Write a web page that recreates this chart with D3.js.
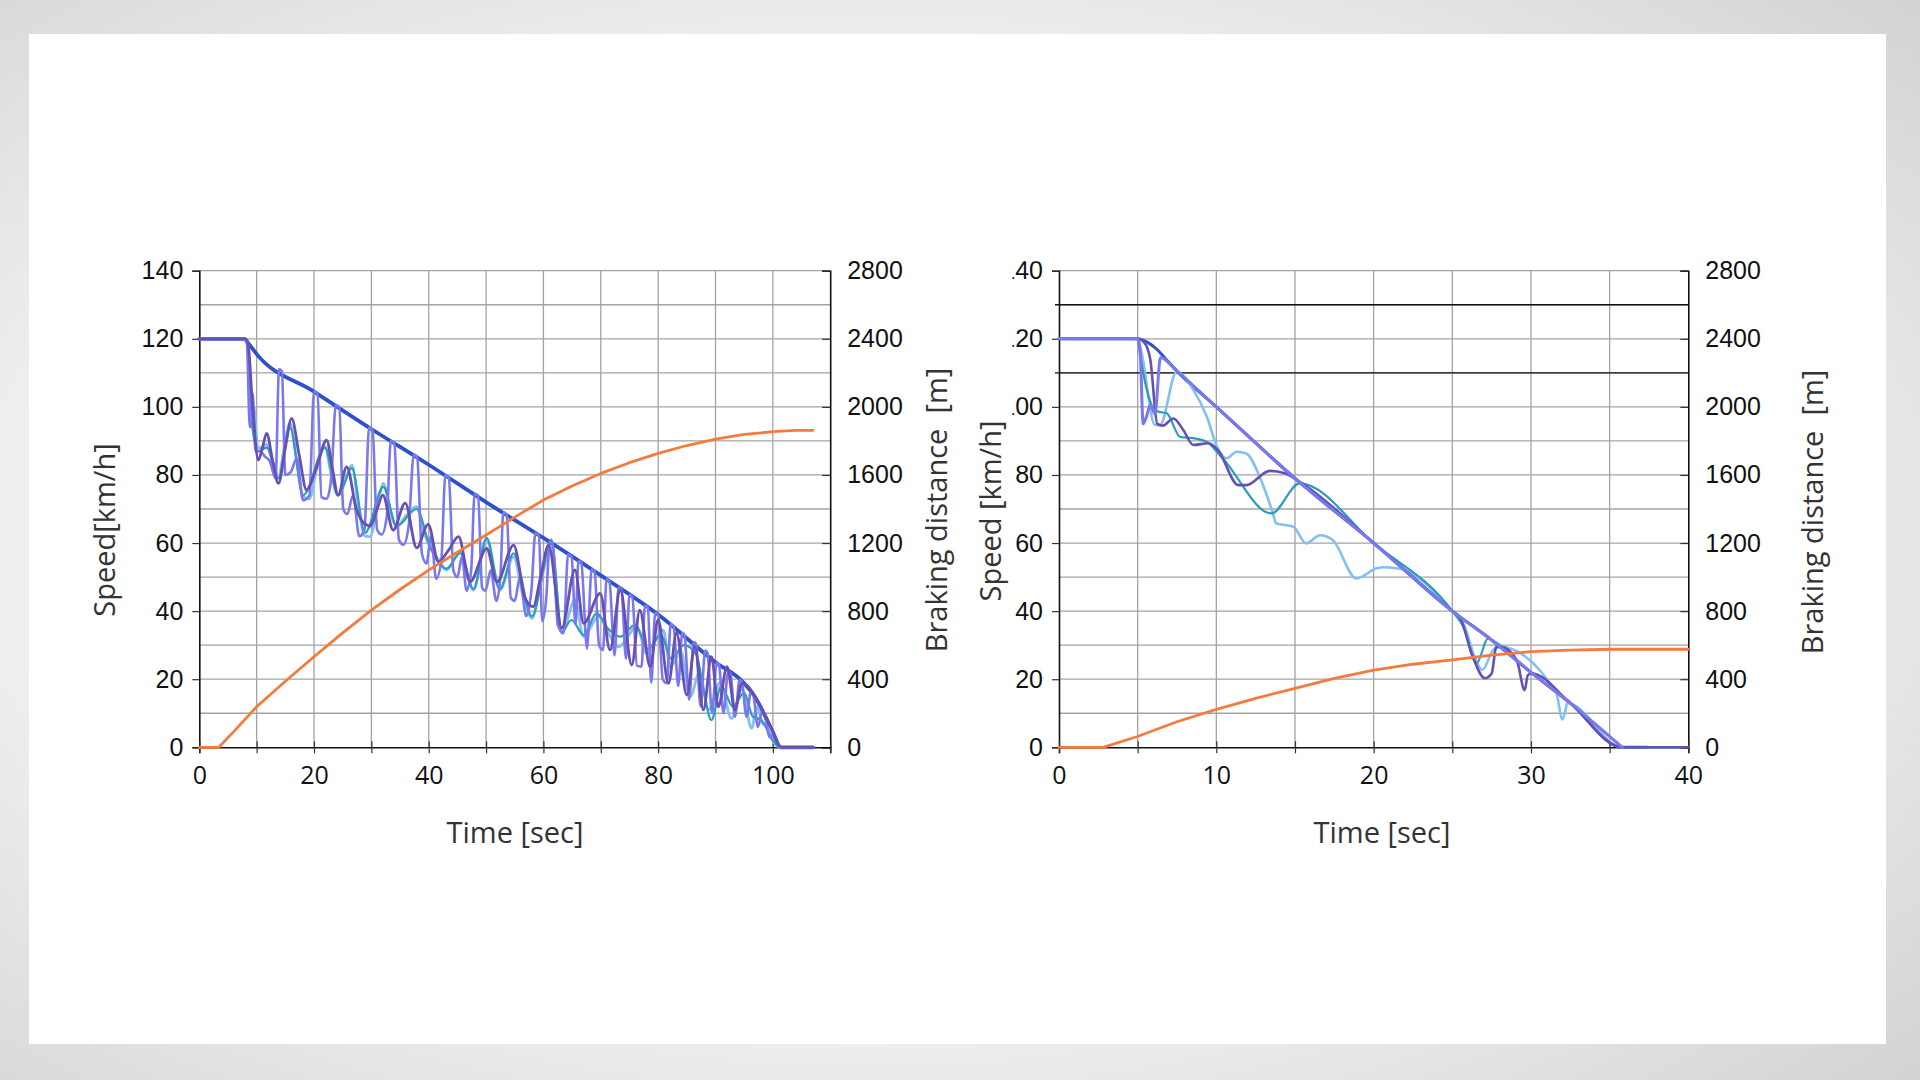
<!DOCTYPE html>
<html>
<head>
<meta charset="utf-8">
<script src="https://cdn.jsdelivr.net/npm/d3@7"></script>
<style>
  html, body { margin: 0; padding: 0; background: #fff; }
  svg { display: block; }
</style>
</head>
<body>
<div id="chart"></div>
<script>
// ---- tick labels / grid ----
const speedTicks = [0, 20, 40, 60, 80, 100, 120, 140];
const speedGrid = [10, 20, 30, 40, 50, 60, 70, 80, 90, 100, 110, 120, 130, 140];
const distTicks = [0, 400, 800, 1200, 1600, 2000, 2400, 2800];
const leftTimeTicks = [0, 20, 40, 60, 80, 100];
const leftTimeGrid = [10, 20, 30, 40, 50, 60, 70, 80, 90, 100];
const rightTimeTicks = [0, 10, 20, 30, 40];
const rightTimeGrid = [5, 10, 15, 20, 25, 30, 35];
const rightRefLines = [130, 110];

// ---- left chart (t [s], speed [km/h]) ----
const leftEnvelope = [[0,120],[7.9,120],[8.5,118.8],[10,115.5],[20,104.5],[30,93.5],[40,83],[50,72],[60,61.5],[70,50.5],[80,39],[90,25],[95,18.8],[97,14.5],[99,8],[100,4.5],[101.4,0],[107,0]];

const leftPeriwinkle = [[0,120],[7.7,120],[8.3,118.5],[8.8,94],[9.3,104],[9.8,87],[10.6,87],[11.4,85.5],[12.3,84],[13.3,79],[13.9,111],[14.4,110.5],[15.0,80],[16.0,81],[17.0,85],[18.1,72.5],[19.2,74],[20.0,104.5],[20.6,104],[21.3,73.5],[22.2,73],[23.0,79],[23.8,100.5],[24.4,100],[25.1,70],[25.8,68.5],[26.8,74],[27.9,62],[28.8,64],[29.6,94],[30.2,93.3],[31.0,64],[31.8,62.5],[32.7,68],[33.4,90],[34.0,89.3],[34.8,61],[35.6,59.5],[36.5,65],[37.4,86],[38.0,85],[38.8,57],[39.6,54],[40.4,62],[41.3,49.5],[42.2,55],[42.9,80],[43.5,79.2],[44.3,52],[45.0,50],[45.8,56],[46.6,46],[47.4,52],[48.0,74.5],[48.6,74],[49.3,47],[49.9,46],[50.8,52],[51.8,43],[52.5,50],[53.0,69],[53.6,68.3],[54.3,44],[55.0,43],[55.9,50],[57.0,38.5],[57.9,46],[58.6,63],[59.2,62.4],[59.8,37],[60.5,44],[61.1,60.3],[61.6,59.7],[62.5,36],[63.5,33.5],[64.3,56.7],[64.9,56],[65.6,36],[66.1,54.8],[66.6,54.2],[67.6,29],[68.4,52.3],[68.9,51.8],[69.7,30],[70.4,28.6],[71.0,49.4],[71.5,48.8],[72.4,27],[73.1,47],[73.6,46.4],[74.4,26],[75.0,44.8],[75.5,44.2],[76.3,24],[77.1,23.7],[77.7,41.6],[78.2,41.1],[78.8,19],[79.5,39.6],[80.0,39],[80.8,20],[81.5,18.8],[82.2,36.2],[82.7,35.5],[83.5,18],[84.2,33.6],[84.6,33],[85.4,14],[86.2,30.9],[86.6,30.4],[87.4,12],[88.2,28.4],[88.6,27.8],[89.4,10],[90.2,24.8],[90.6,24.3],[91.4,10],[92.2,22.3],[92.6,21.8],[93.4,9],[94.2,19.8],[94.6,19.3],[95.4,9],[96.2,16.5],[96.6,15.4],[97.4,6],[98.2,11],[98.6,9.5],[99.4,3],[100.2,3.5],[100.8,1.5],[101.4,0],[107,0]];

const leftDarkPurple = [[0,120],[8,120],[8.5,118.5],[9.3,100],[10.3,84.4],[11.0,88],[11.75,92.2],[12.8,84],[13.8,77.5],[15.0,88],[16.1,96.6],[17.4,86],[18.7,75.6],[20.4,82],[22.2,90.2],[23.2,82],[24.2,74.1],[25.7,82.4],[27.4,70],[28.6,66],[29.8,65],[31.0,70],[32.0,74.1],[33.8,63.8],[35.9,71.7],[37.9,58.6],[39.9,65.5],[41.7,54.5],[43.5,58],[45.2,61.9],[47.2,48.6],[50.1,58.4],[51.9,48.6],[54.8,59.4],[56.8,43.8],[58.2,41.3],[59.5,50],[60.9,59.4],[63.2,35],[65.5,52.1],[67.0,36.4],[69.9,45.2],[71.6,28.6],[73.4,46.2],[75.4,24.2],[76.8,40.3],[78.6,23.7],[80.0,37.4],[81.8,18.8],[83.2,33.5],[85.0,15.4],[86.4,29.5],[87.9,11],[89.3,26.6],[90.5,11.9],[92.0,23.7],[93.4,11],[94.6,18.8],[95.5,18.2],[97,14.5],[99,8],[100,4.5],[101.4,0],[107,0]];

const leftLightBlue = [[0,120],[8,120],[8.5,118],[9.0,94],[9.5,100],[10.2,88],[11,88],[11.75,89],[12.8,84],[13.8,79.5],[14.8,88],[15.8,95.2],[17,84],[18.1,73.6],[19.2,73],[20.5,82],[21.9,88.3],[23,80],[24.2,74],[25.4,78],[26.6,82.9],[27.8,70],[28.9,62],[29.8,61.9],[31.0,70],[32.1,77.5],[33.2,70],[34.4,64.8],[36.0,68],[37.9,70.7],[39.0,64],[40.2,58.9],[41.8,55],[43.1,52.1],[45.5,57.4],[47.8,46.2],[50.1,60.9],[52.4,46.2],[54.8,56],[56.5,44],[58,37.9],[59.5,48],[61.4,58.9],[63.2,33.5],[65.5,43.3],[67,32.5],[69.6,38.4],[71.5,33],[73.1,29.5],[76.3,35.4],[78,27.6],[80.9,34.4],[82.1,23.7],[84,28],[85.6,14.9],[87.2,22],[88.8,11],[90.8,19],[92.8,8.5],[94.6,17],[96.3,5.6],[97.2,12],[98.2,7],[99.2,6],[100.1,1.6],[101.4,0],[107,0]];

const leftTeal = [[0,120],[8,120],[8.5,118],[9.2,95],[10.2,87],[11.75,88],[13.8,79],[15.8,94],[18.1,74],[21.9,88],[24.2,74],[26.6,82],[28.9,63],[32.1,76.5],[34.4,65],[37.9,70],[40.2,59],[43.1,52.5],[45.5,57],[47.8,46.5],[50.1,61.5],[52.4,46.5],[54.8,57],[58,38.5],[61.4,61],[63.2,34],[64.9,37.4],[67,33],[69.3,39.4],[71.2,35],[73.4,32.5],[76,36],[78.2,29],[80.5,33],[82.3,26],[84.5,30],[86.7,27.1],[88,16],[89.3,8],[91,18],[93,12],[95,16],[96.5,9],[98,8],[100,2],[101.4,0],[107,0]];

// braking distance [m]
const leftDistance = [[0,0],[3.4,0],[6,92],[10,238],[15,388],[20,532],[25,672],[30,806],[35,927],[40,1041],[45,1146],[50,1247],[55,1352],[60,1453],[65,1535],[70,1609],[75,1672],[80,1727],[85,1773],[90,1811],[95,1838],[100,1854],[104,1862],[107,1862]];

// ---- right chart ----
const rightEnvelope = [[0,120],[5,120],[5.6,119],[6.2,117],[6.7,114.5],[7.5,110.5],[10,100],[15,79],[20,60],[25,40],[27.5,31.5],[30,22],[32.5,13],[35.8,0],[37.4,0]];

const rightPeriwinkle = [[0,120],[5,120],[5.15,117],[5.35,95],[5.55,97],[5.8,100.5],[6.1,98],[6.45,114.5],[7.5,110.5],[10,100],[15,79],[20,60],[25,40],[27.5,31.5],[30,22],[32.5,13],[35.8,0]];

const rightDarkPurple = [[0,120],[5,120],[5.4,119],[5.8,114],[6.25,95],[6.6,94.5],[7.27,96.6],[7.9,93.2],[8.54,88.8],[9.5,89.3],[10.1,87.3],[11.4,77],[11.9,77],[13.4,81.2],[14.35,80.5],[15.3,78],[20,60],[25,40],[25.5,38],[26.3,26.6],[27.07,20.3],[27.5,21.7],[27.8,29.5],[28.1,29.5],[29.1,25.5],[29.6,16.8],[29.8,21.2],[30.05,21.7],[32.5,13],[35.8,0],[36.2,0],[39.5,0],[40,0]];

const rightTeal = [[0,120],[5,120],[5.1,117],[5.58,105],[6,99.6],[6.32,98.6],[6.85,98.1],[7.7,91.2],[8.54,90.8],[9.4,89.7],[10.4,84.9],[13.5,68.7],[15.3,77.5],[20,60],[25,40],[25.7,35.4],[26.55,24.7],[27.27,32],[27.7,31],[30,22],[32.5,13],[35.8,0]];

const rightLightBlue = [[0,120],[5,120],[5.2,117],[6.1,94.7],[6.42,94.7],[7.48,110.3],[8.54,105],[9.4,97.1],[10.05,88.3],[10.65,84.9],[11.3,86.8],[11.9,86.3],[12.75,79.5],[13.6,68.7],[13.8,65.8],[14.9,64.8],[15.7,59.9],[16.6,62.3],[17.4,60.9],[18.9,49.6],[20.2,52.6],[20.6,52.9],[21.45,52.6],[22,52],[25,40],[25.7,36.4],[26.5,25.6],[26.9,22.7],[27.6,28.6],[28,29.5],[31.6,16],[32,8.2],[32.2,11],[32.3,13],[35.8,0],[37.4,0],[39.5,0]];

const rightDistance = [[0,0],[2.8,0],[4.94,62],[7.5,150],[10,223],[12.5,288],[15,346],[17.5,405],[20,454],[22.5,488],[25,513],[27.5,542],[30,562],[32.5,571],[35,576],[40,576]];

// ---- colours ----
const C_DARKBLUE = "#2d50cc";
const C_PERI = "#7a78ee";
const C_PURPLE = "#6650b4";
const C_LIGHT = "#82bff2";
const C_TEAL = "#2a9db8";
const C_ORANGE = "#f47b3c";

const W = 1920, H = 1080;
const PLOT_TOP = 270.7, PLOT_BOTTOM = 747.3;
const NUM_FONT = "'Liberation Sans', Arial, sans-serif";
const TXT_FONT = "'Open Sans', 'Noto Sans', sans-serif";

const svg = d3.select("#chart").append("svg").attr("width", W).attr("height", H);
const defs = svg.append("defs");

// backdrop
const bg = defs.append("radialGradient").attr("id", "bg").attr("cx", "45%").attr("cy", "50%").attr("r", "75%");
bg.append("stop").attr("offset", "0%").attr("stop-color", "#fbfbfb");
bg.append("stop").attr("offset", "60%").attr("stop-color", "#efefef");
bg.append("stop").attr("offset", "100%").attr("stop-color", "#d2d2d2");
svg.append("rect").attr("width", W).attr("height", H).attr("fill", "url(#bg)");
svg.append("rect").attr("x", 29).attr("y", 34).attr("width", 1857).attr("height", 1010).attr("fill", "#fff");

function panel(p) {
  const x = d3.scaleLinear().domain(p.xDomain).range([p.x0, p.x1]);
  const y = d3.scaleLinear().domain([0, 140]).range([PLOT_BOTTOM, PLOT_TOP]);
  const y2 = d3.scaleLinear().domain([0, 2800]).range([PLOT_BOTTOM, PLOT_TOP]);
  const g = svg.append("g").attr("class", p.id);

  // grid
  g.append("g").selectAll("line").data(speedGrid).enter().append("line")
    .attr("x1", p.x0).attr("x2", p.x1)
    .attr("y1", d => y(d)).attr("y2", d => y(d))
    .attr("stroke", "#a3a3a3").attr("stroke-width", 1.3);
  g.append("g").selectAll("line").data(p.timeGrid).enter().append("line")
    .attr("x1", d => x(d)).attr("x2", d => x(d))
    .attr("y1", PLOT_TOP).attr("y2", PLOT_BOTTOM)
    .attr("stroke", "#a3a3a3").attr("stroke-width", 1.3);

  // black reference lines (right chart only)
  g.append("g").selectAll("line").data(p.refLines || []).enter().append("line")
    .attr("x1", p.x0 - 4).attr("x2", p.x1)
    .attr("y1", d => y(d)).attr("y2", d => y(d))
    .attr("stroke", "#111").attr("stroke-width", 1.4);

  // left axis
  const axL = g.append("g").attr("transform", `translate(${p.x0},0)`)
    .call(d3.axisLeft(y).tickValues(speedTicks).tickSize(7).tickPadding(9));
  if (p.clipLabels) {
    // the source image cut off the hundreds digit of these labels
    const cid = "clip-" + p.id;
    defs.append("clipPath").attr("id", cid).append("rect")
      .attr("x", p.clipLabels - p.x0).attr("y", -10).attr("width", 200).attr("height", H);
    axL.selectAll("text").attr("clip-path", `url(#${cid})`);
  }

  // right axis (distance)
  g.append("g").attr("transform", `translate(${p.x1},0)`)
    .call(d3.axisRight(y2).tickValues(distTicks).tickSize(-8).tickPadding(17).tickFormat(d3.format("d")));

  // bottom axis: tick marks at grid positions, labels separately
  g.append("g").attr("transform", `translate(0,${PLOT_BOTTOM})`)
    .call(d3.axisBottom(x).tickValues([p.xDomain[0]].concat(p.timeGrid, [p.xDomain[1]])).tickSize(6).tickFormat(""))
    .call(a => a.selectAll(".tick line").attr("y1", -6));
  const axB = g.append("g").attr("transform", `translate(0,${PLOT_BOTTOM})`)
    .call(d3.axisBottom(x).tickValues(p.timeTicks).tickSize(0).tickPadding(19));
  axB.select(".domain").remove();

  g.selectAll(".domain").attr("stroke", "#111").attr("stroke-width", 1.6);
  g.selectAll(".tick line").attr("stroke", "#333").attr("stroke-width", 1.2);
  g.selectAll(".tick text").style("font-family", NUM_FONT).style("font-size", "25px").attr("fill", "#111");
  axB.selectAll("text").style("font-family", TXT_FONT).style("font-size", "25px");

  // series
  const line = d3.line().x(d => x(d[0])).y(d => y(d[1])).curve(d3.curveMonotoneX);
  const dline = d3.line().x(d => x(d[0])).y(d => y2(d[1])).curve(d3.curveLinear);
  const lines = g.append("g").attr("fill", "none")
    .attr("stroke-linejoin", "round").attr("stroke-linecap", "round");
  p.series.forEach(s => {
    lines.append("path").datum(s.data)
      .attr("d", line).attr("stroke", s.color).attr("stroke-width", s.width);
  });
  lines.append("path").datum(p.distance)
    .attr("d", dline).attr("stroke", C_ORANGE).attr("stroke-width", 2.8);

  // titles
  g.append("text").attr("x", p.timeTitleX).attr("y", 843)
    .attr("text-anchor", "middle").style("font-family", TXT_FONT)
    .style("font-size", "29px").attr("fill", "#333").text("Time [sec]");
  g.append("text").attr("transform", `translate(${p.speedTitleX},${p.speedTitleY}) rotate(-90)`)
    .attr("text-anchor", "middle").style("font-family", TXT_FONT)
    .style("font-size", "29px").attr("fill", "#333").text(p.speedTitle);
  g.append("text").attr("transform", `translate(${p.distTitleX},${p.distTitleY}) rotate(-90)`)
    .attr("text-anchor", "middle").style("font-family", TXT_FONT)
    .style("font-size", "29px").attr("fill", "#333").attr("xml:space", "preserve")
    .style("white-space", "pre").text("Braking distance  [m]");
}

panel({
  id: "left", xDomain: [0, 110], x0: 199.3, x1: 830.2,
  timeTicks: leftTimeTicks, timeGrid: leftTimeGrid,
  series: [
    { data: leftEnvelope, color: C_DARKBLUE, width: 3.8 },
    { data: leftLightBlue, color: C_LIGHT, width: 2.8 },
    { data: leftTeal, color: C_TEAL, width: 2.2 },
    { data: leftPeriwinkle, color: C_PERI, width: 2.6 },
    { data: leftDarkPurple, color: C_PURPLE, width: 2.8 }
  ],
  distance: leftDistance,
  timeTitleX: 515, speedTitleX: 115, speedTitleY: 530, speedTitle: "Speed[km/h]",
  distTitleX: 947, distTitleY: 510
});

panel({
  id: "right", xDomain: [0, 40], x0: 1059, x1: 1688.3,
  timeTicks: rightTimeTicks, timeGrid: rightTimeGrid, refLines: rightRefLines,
  clipLabels: 1012.5,
  series: [
    { data: rightEnvelope, color: C_DARKBLUE, width: 3 },
    { data: rightLightBlue, color: C_LIGHT, width: 2.6 },
    { data: rightTeal, color: C_TEAL, width: 2.2 },
    { data: rightDarkPurple, color: C_PURPLE, width: 2.6 },
    { data: rightPeriwinkle, color: C_PERI, width: 3 }
  ],
  distance: rightDistance,
  timeTitleX: 1382, speedTitleX: 1001, speedTitleY: 511, speedTitle: "Speed [km/h]",
  distTitleX: 1823, distTitleY: 512
});
</script>
</body>
</html>
